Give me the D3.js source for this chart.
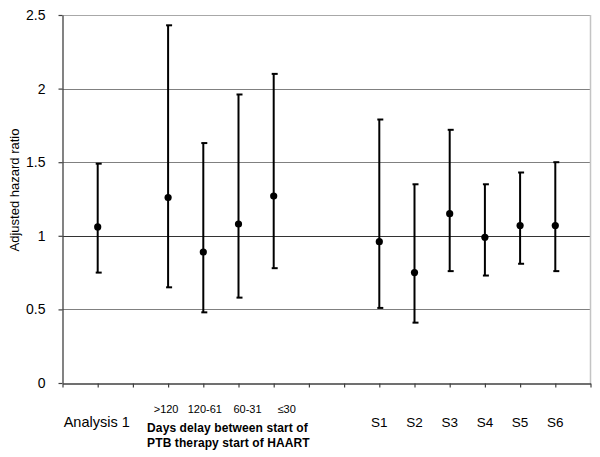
<!DOCTYPE html>
<html>
<head>
<meta charset="utf-8">
<script src="https://cdn.jsdelivr.net/npm/d3@7"></script>
<style>
  body { margin: 0; background: #fff; }
  svg { font-family: Arial, "Liberation Sans", sans-serif; }
</style>
</head>
<body>
<svg id="chart" width="600" height="457"></svg>
<script>
// categories and their x position on the scatter axis (0..15)
const labels = ["Analysis 1", ">120", "120-61", "60-31", "≤30", "S1", "S2", "S3", "S4", "S5", "S6"];
const xPos = [1, 3, 4, 5, 6, 9, 10, 11, 12, 13, 14];
// adjusted hazard ratio with lower / upper limits
const hr = [1.06, 1.26, 0.89, 1.08, 1.27, 0.96, 0.75, 1.15, 0.99, 1.07, 1.07];
const lower = [0.75, 0.65, 0.48, 0.58, 0.78, 0.51, 0.41, 0.76, 0.73, 0.81, 0.76];
const upper = [1.49, 2.43, 1.63, 1.96, 2.10, 1.79, 1.35, 1.72, 1.35, 1.43, 1.50];
const yTicks = [0, 0.5, 1, 1.5, 2, 2.5];
const groupTitle = ["Days delay between start of", "PTB therapy start of HAART"];

const svg = d3.select("#chart");
const x = d3.scaleLinear().domain([0, 15]).range([62.5, 590.5]);
const y = d3.scaleLinear().domain([0, 2.5]).range([383, 15]);

const data = labels.map((l, i) => ({label: l, x: xPos[i], hr: hr[i], lo: lower[i], hi: upper[i]}));

// gridlines
svg.append("g").selectAll("line")
  .data(yTicks.filter(d => d > 0))
  .enter().append("line")
  .attr("x1", x(0)).attr("x2", x(15))
  .attr("y1", d => Math.round(y(d)) + 0.5).attr("y2", d => Math.round(y(d)) + 0.5)
  .attr("stroke", d => d == 1 ? "#333" : (d == 2.5 ? "#a8a8a8" : "#808080"))
  .attr("stroke-width", 1.2);

// right border
svg.append("line")
  .attr("x1", x(15)).attr("x2", x(15))
  .attr("y1", y(2.5)).attr("y2", y(0))
  .attr("stroke", "#c4c4c4").attr("stroke-width", 1.5);

// axes
const yAxis = svg.append("g")
  .attr("transform", "translate(" + x(0) + ",0)")
  .call(d3.axisLeft(y).tickValues(yTicks).tickSize(4).tickSizeOuter(0).tickPadding(13).tickFormat(d => d));
const xAxis = svg.append("g")
  .attr("transform", "translate(0," + (Math.round(y(0)) + 0.5) + ")")
  .call(d3.axisBottom(x).ticks(15).tickSize(4).tickSizeOuter(0).tickFormat(""));
[yAxis, xAxis].forEach(a => {
  a.select(".domain").attr("stroke", "#404040").attr("stroke-width", 1.3);
  a.selectAll(".tick line").attr("stroke", "#404040").attr("stroke-width", 1.2);
  a.selectAll("text").attr("fill", "#000").style("font-size", "14px").style("font-family", "Arial, 'Liberation Sans', sans-serif");
});

// error bars
const bars = svg.append("g").selectAll("g.bar")
  .data(data).enter().append("g").attr("class", "bar");
bars.append("line")
  .attr("x1", d => x(d.x)).attr("x2", d => x(d.x))
  .attr("y1", d => y(d.hi)).attr("y2", d => y(d.lo))
  .attr("stroke", "#000").attr("stroke-width", 2);
bars.selectAll("line.cap")
  .data(d => [{x: d.x, v: d.hi}, {x: d.x, v: d.lo}])
  .enter().append("line").attr("class", "cap")
  .attr("x1", d => x(d.x) - 2).attr("x2", d => x(d.x) + 4)
  .attr("y1", d => y(d.v)).attr("y2", d => y(d.v))
  .attr("stroke", "#000").attr("stroke-width", 2);
bars.append("circle")
  .attr("cx", d => x(d.x)).attr("cy", d => y(d.hr))
  .attr("r", 3.6).attr("fill", "#000");

// category labels
svg.append("text")
  .attr("x", x(xPos[0]) - 1).attr("y", 427)
  .attr("text-anchor", "middle").style("font-size", "14.5px")
  .text(labels[0]);

const delayShift = [-2, 1.5, 9, 13];
svg.append("g").selectAll("text")
  .data(data.slice(1, 5)).enter().append("text")
  .attr("x", (d, i) => x(d.x) + delayShift[i]).attr("y", 412.5)
  .attr("text-anchor", "middle").style("font-size", "11px")
  .text(d => d.label);

svg.append("g").selectAll("text")
  .data(groupTitle).enter().append("text")
  .attr("x", x(xPos[1]) - 21).attr("y", (d, i) => 432 + i * 15)
  .style("font-size", "12px").style("font-weight", "bold").style("letter-spacing", "0.1px")
  .text(d => d);

svg.append("g").selectAll("text")
  .data(data.slice(5)).enter().append("text")
  .attr("x", d => x(d.x)).attr("y", 427)
  .attr("text-anchor", "middle").style("font-size", "13.5px")
  .text(d => d.label);

// y title
svg.append("text")
  .attr("transform", "translate(19,190) rotate(-90)")
  .attr("text-anchor", "middle").style("font-size", "13px")
  .text("Adjusted hazard ratio");
</script>
</body>
</html>
